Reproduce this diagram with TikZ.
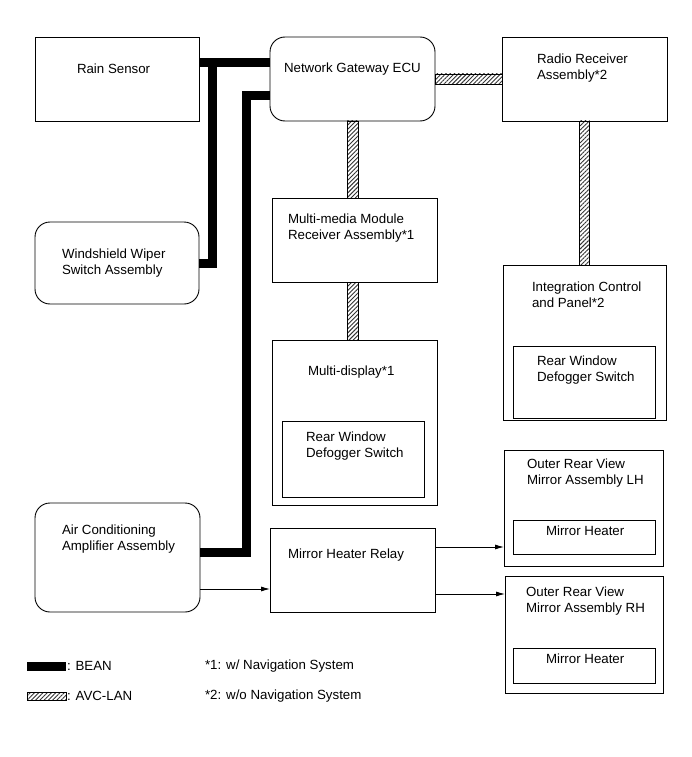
\documentclass[tikz,border=0pt]{standalone}
\usepackage{fontspec}
\setmainfont{Liberation Sans}
\usetikzlibrary{calc,patterns.meta,arrows.meta}
\begin{document}
\begin{tikzpicture}[x=1pt,y=-1pt,
  box/.style={draw, line width=0.9pt, inner sep=0pt, outer sep=0pt},
  rbox/.style={box, rounded corners=15pt},
  txt/.style={inner sep=0pt, outer sep=0pt, align=left, font=\fontsize{13.3}{15.5}\selectfont},
  bean/.style={line width=9pt, line join=miter, line cap=butt},
  avc/.style={draw, line width=0.6pt, pattern={Lines[angle=45,distance=3pt,line width=0.9pt]}, pattern color=black!80},
  arr/.style={line width=0.8pt, -{Latex[length=9pt,width=5pt]}}]
\useasboundingbox (0,0) rectangle (691,757);

% boxes
\node[box,  minimum width=164, minimum height=84] (rain)  at (117,79) {};
\node[rbox, minimum width=165, minimum height=84] (gw)    at (352.5,79) {};
\node[box,  minimum width=165, minimum height=84] (radio) at (584.5,79) {};
\node[rbox, minimum width=164, minimum height=82] (wiper) at (117,263) {};
\node[box,  minimum width=165, minimum height=84] (mm)    at (354.5,240) {};
\node[box,  minimum width=163, minimum height=155] (integ) at (584.5,342.5) {};
\node[box,  minimum width=142, minimum height=72] (integIn) at (584,382) {};
\node[box,  minimum width=165, minimum height=165] (md)   at (354.5,422.5) {};
\node[box,  minimum width=142, minimum height=76] (mdIn)  at (353,459) {};
\node[rbox, minimum width=165, minimum height=109] (ac)   at (117.5,557.5) {};
\node[box,  minimum width=165, minimum height=84] (relay) at (352.5,570) {};
\node[box,  minimum width=159, minimum height=116] (lh)   at (583.5,508) {};
\node[box,  minimum width=142, minimum height=34] (lhIn)  at (584,537) {};
\node[box,  minimum width=158, minimum height=117] (rh)   at (584,634.5) {};
\node[box,  minimum width=142, minimum height=35] (rhIn)  at (584,665.5) {};

% texts
\node[txt, anchor=west] (rainT) at (77,69) {Rain Sensor};
\node[txt, anchor=west] (gwT) at (284,69) {Network Gateway ECU};
\node[txt, anchor=north west] (radioT) at (537,54.2) {Radio Receiver\\Assembly*2};
\node[txt, anchor=north west] (wiperT) at (62,249.2) {Windshield Wiper\\Switch Assembly};
\node[txt, anchor=north west] (mmT) at (288,214.2) {Multi-media Module\\Receiver Assembly*1};
\node[txt, anchor=north west] (integT) at (532,282.2) {Integration Control\\and Panel*2};
\node[txt, anchor=north west] (integInT) at (537,356.2) {Rear Window\\Defogger Switch};
\node[txt, anchor=west] (mdT) at (308,372) {Multi-display*1};
\node[txt, anchor=north west] (mdInT) at (306,432.2) {Rear Window\\Defogger Switch};
\node[txt, anchor=north west] (acT) at (62,525.2) {Air Conditioning\\Amplifier Assembly};
\node[txt, anchor=west] (relayT) at (288,555) {Mirror Heater Relay};
\node[txt, anchor=north west] (lhT) at (527,459.2) {Outer Rear View\\Mirror Assembly LH};
\node[txt, anchor=west] (lhInT) at (546,531) {Mirror Heater};
\node[txt, anchor=north west] (rhT) at (526,587.2) {Outer Rear View\\Mirror Assembly RH};
\node[txt, anchor=west] (rhInT) at (546,659) {Mirror Heater};

% BEAN connectors
\draw[bean] ($(rain.east)+(0,-16.5)$) -- ($(gw.west)+(0,-16.5)$);
\coordinate (j1) at (212,62.5);
\draw[bean] (j1) |- (wiper.east);
\coordinate (j2) at (246,300);
\draw[bean] ($(gw.west)+(0,17)$) -| (j2) |- ($(ac.east)+(0,-5.5)$);

% AVC-LAN connectors
\path[avc] ($(gw.east)+(0,-5)$) rectangle ($(radio.west)+(0,5)$);
\path[avc] ($(gw.south)+(-5.5,0)$) rectangle ($(gw.south |- mm.north)+(5.5,0)$);
\path[avc] ($(gw.south |- mm.south)+(-5.5,0)$) rectangle ($(gw.south |- md.north)+(5.5,0)$);
\path[avc] ($(radio.south)+(-5,0)$) rectangle ($(integ.north)+(5,0)$);

% arrows
\draw[arr] ($(ac.east)+(0,31.5)$) coordinate (a1) -- (relay.west |- a1);
\draw[arr] ($(relay.east)+(0,-23)$) coordinate (a2) -- (lh.west |- a2);
\draw[arr] ($(relay.east)+(0,24)$) coordinate (a3) -- (rh.west |- a3);

% legend
\node[fill=black, inner sep=0pt, minimum width=39, minimum height=9] (keyBean) at (46.5,666) {};
\node[txt, anchor=west] (keyBeanT) at (67,666) {: BEAN};
\node[avc, inner sep=0pt, minimum width=39, minimum height=8] (keyAvc) at (46.5,696) {};
\node[txt, anchor=west] (keyAvcT) at (67,696) {: AVC-LAN};
\node[txt, anchor=west] (note1) at (205,666) {*1: w/ Navigation System};
\node[txt, anchor=west] (note2) at (205,696) {*2: w/o Navigation System};
\end{tikzpicture}
\end{document}
